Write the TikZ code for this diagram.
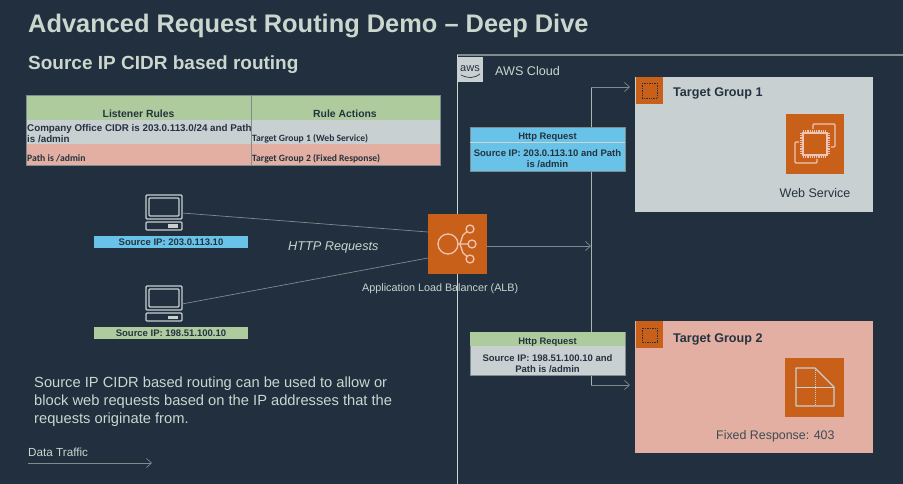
\documentclass[tikz,border=0pt]{standalone}
\usepackage{fontspec}
\setmainfont{Liberation Sans}
\newfontfamily\calib{Carlito}
\usetikzlibrary{arrows.meta}
\definecolor{bg}{HTML}{212F3E}
\definecolor{org}{HTML}{C9601A}
\definecolor{pale}{HTML}{C8D0D2}
\definecolor{salm}{HTML}{E2AFA2}
\definecolor{sky}{HTML}{69C3E8}
\definecolor{leaf}{HTML}{AECB9E}
\definecolor{soft}{HTML}{CAD6CE}
\definecolor{ink}{HTML}{25323F}
\definecolor{wire}{HTML}{7F8B8D}
\definecolor{pink}{HTML}{EFC4B4}
\tikzset{
  box/.style={anchor=north west,inner sep=0pt,outer sep=0pt,minimum width=#1},
  txt/.style={anchor=base west,inner sep=0pt,text=soft},
  dark/.style={anchor=base,inner sep=0pt,text=ink},
  wireline/.style={draw=wire,line width=0.7pt},
  flow/.style={wireline,-{Straight Barb[length=5pt,width=9pt]}},
  screenline/.style={draw=pale,line width=1.1pt,rounded corners=1pt},
  iconline/.style={draw=pink,line width=1.2pt},
}
\begin{document}
\begin{tikzpicture}[x=1pt,y=-1pt]
\useasboundingbox (0,0) rectangle (903,484);
\fill[bg] (0,0) rectangle (903,484);
% titles
\node[txt,font=\bfseries\fontsize{25.4}{28}\selectfont] (title) at (28,33) {Advanced Request Routing Demo – Deep Dive};
\node[txt,font=\bfseries\fontsize{19}{22}\selectfont] (sub) at (28,70) {Source IP CIDR based routing};
% table
\node[box=225pt,minimum height=25pt,fill=leaf] (h1) at (26,95) {};
\node[box=189pt,minimum height=25pt,fill=leaf] (h2) at (251,95) {};
\node[box=225pt,minimum height=24pt,fill=pale] (r1) at (26,120) {};
\node[box=189pt,minimum height=24pt,fill=pale] (r1b) at (251,120) {};
\node[box=225pt,minimum height=21pt,fill=salm] (r2) at (26,144) {};
\node[box=189pt,minimum height=21pt,fill=salm] (r2b) at (251,144) {};
\draw[wire,line width=0.5pt] (26,95) rectangle (440,165) (251,95) -- (251,165);
\node[dark,font=\bfseries\fontsize{10.4}{12}\selectfont] (t1) at (138.5,118) {Listener Rules};
\node[dark,font=\bfseries\fontsize{10.4}{12}\selectfont] (t2) at (345,118) {Rule Actions};
\node[txt,text=ink,font=\bfseries\fontsize{9.8}{10}\selectfont] (t3) at (27,131.5) {Company Office CIDR is 203.0.113.0/24 and Path};
\node[txt,text=ink,font=\bfseries\fontsize{9.8}{10}\selectfont] (t4) at (27,142.5) {is /admin};
\node[txt,text=ink,font=\calib\bfseries\fontsize{9.6}{10}\selectfont] (t5) at (252,141.5) {Target Group 1 (Web Service)};
\node[txt,text=ink,font=\calib\bfseries\fontsize{9.7}{10}\selectfont] (t6) at (27,162) {Path is /admin};
\node[txt,text=ink,font=\calib\bfseries\fontsize{9.6}{10}\selectfont] (t7) at (252,162) {Target Group 2 (Fixed Response)};
% computers
\foreach \n/\y in {pc1/195,pc2/286}{
  \node[box=36pt,minimum height=36pt] (\n) at (146,\y) {};
  \draw[screenline] (146,\y) rectangle (182,\y+24);
  \draw[screenline] (149,\y+3) rectangle (179,\y+21);
  \draw[screenline] (146,\y+27) rectangle (182,\y+35);
  \fill[pale] (168,\y+29.5) rectangle (178,\y+32.5);
}
\node[box=154pt,minimum height=12pt,fill=sky,font=\bfseries\fontsize{9.5}{10}\selectfont,text=ink] (ip1) at (94,236) {Source IP: 203.0.113.10};
\node[box=154pt,minimum height=12pt,fill=leaf,font=\bfseries\fontsize{9.5}{10}\selectfont,text=ink] (ip2) at (94,327) {Source IP: 198.51.100.10};
% cloud frame
\coordinate (cloudtl) at (457,55);
\coordinate (cloudtr) at (903,55);
\coordinate (cloudbl) at (457,484);
\draw[draw=wire,line width=1.2pt] (cloudtl) -- (cloudtr);
\draw[draw=soft,line width=0.9pt] (cloudtl) -- (cloudbl);
\node[box=26pt,minimum height=25pt,fill=pale,font=\fontsize{11}{9}\selectfont,text=ink] (aws) at (457,57) {\raisebox{2pt}{aws}};
\draw[ink,line width=0.7pt] (461,75) .. controls (468,78.5) and (474,78.5) .. (480,74);
\node[txt,font=\fontsize{12.6}{14}\selectfont] (cloud) at (495,76) {AWS Cloud};
% target groups
\node[box=238pt,minimum height=135pt,fill=pale] (tg1) at (635,77) {};
\node[box=238pt,minimum height=132pt,fill=salm] (tg2) at (635,321) {};
\node[box=27pt,minimum height=27pt,fill=org] (g1) at (636,77) {};
\node[box=27pt,minimum height=27pt,fill=org] (g2) at (636,321) {};
\draw[ink,line width=0.7pt,densely dotted] (642,83) rectangle (657,98);
\draw[ink,line width=0.7pt,densely dotted] (642,328) rectangle (657,342);
\node[txt,text=ink,font=\bfseries\fontsize{12.6}{14}\selectfont] (tg1t) at (673,97) {Target Group 1};
\node[txt,text=ink,font=\bfseries\fontsize{12.6}{14}\selectfont] (tg2t) at (673,342) {Target Group 2};
% EC2 icon
\node[box=58pt,minimum height=60pt,fill=org] (ec2) at (786,114) {};
\draw[iconline] (803,133) rectangle (827,155);
\draw[iconline,densely dotted,line width=2pt] (801,133) -- (801,155) (829,133) -- (829,155) (803,131) -- (827,131) (803,157) -- (827,157);
\draw[iconline,rounded corners=1pt] (813,129) -- (813,124) -- (835,124) -- (835,147) -- (831,147);
\draw[iconline,rounded corners=1pt] (799,142) -- (795,142) -- (795,163) -- (817,163) -- (817,159);
\node[dark,font=\fontsize{12.5}{14}\selectfont] (ws) at (815,198) {Web Service};
% fixed response icon
\node[box=59pt,minimum height=59pt,fill=org] (fix) at (785,358) {};
\draw[draw=pale,line width=1.2pt,line join=round] (796,368) -- (815,368) -- (834,387) -- (834,406) -- (796,406) -- cycle;
\draw[draw=pale,line width=1pt] (796,387) -- (834,387);
\draw[draw=pale,line width=1pt,densely dotted] (815,368) -- (815,406);
\node[txt,text=ink!85!soft,font=\fontsize{12.4}{14}\selectfont] (fr) at (716,439) {Fixed Response: 403};
% ALB and connectors
\node[box=59pt,minimum height=60pt,fill=org] (alb) at (428,214) {};
\coordinate (albn) at (428,232);
\coordinate (albs) at (428,258);
\coordinate (jn) at (591,87);
\coordinate (jm) at (591,246);
\coordinate (js) at (591,385);
\coordinate (tg1in) at (630,87);
\coordinate (tg2in) at (630,385);
\coordinate (albout) at (487,246);
\draw[wireline] (pc1.east) -- (albn);
\draw[wireline] (pc2.east) -- (albs);
\draw[flow] (albout) -- (jm);
\draw[wireline,draw=soft!80!bg] (jn) -- (js);
\draw[flow] (jn) -- (tg1in);
\draw[flow] (js) -- (tg2in);
% ALB icon
\draw[iconline,line width=1.3pt] (448,244) circle (10);
\draw[iconline,line width=1.3pt] (470,229) circle (4) (472,244) circle (4) (470,259) circle (4);
\draw[iconline,line width=1.3pt] (458,244) -- (468,244) (460,244) -- (463,235) -- (467,231.5) (460,244) -- (463,253) -- (467,256.5);
\node[txt,font=\fontsize{10.8}{13}\selectfont] (albl) at (362,291) {Application Load Balancer (ALB)};
\node[txt,font=\itshape\fontsize{12.7}{14}\selectfont] (http) at (288,250) {HTTP Requests};
% request boxes
\node[box=155pt,minimum height=44pt,fill=sky,draw=wire,line width=0.5pt] (rq1) at (470,127) {};
\draw[soft,line width=0.5pt] (470,142) -- (625,142);
\node[dark,font=\bfseries\fontsize{9.4}{10}\selectfont] (rq1h) at (547.5,140) {Http Request};
\node[dark,font=\bfseries\fontsize{9.5}{10}\selectfont] (rq1a) at (547.5,157) {Source IP: 203.0.113.10 and Path};
\node[dark,font=\bfseries\fontsize{9.5}{10}\selectfont] (rq1b) at (547.5,168) {is /admin};
\node[box=155pt,minimum height=43pt,fill=pale,draw=wire,line width=0.5pt] (rq2) at (470,332) {};
\node[box=155pt,minimum height=14pt,fill=leaf] (rq2top) at (470,332) {};
\node[dark,font=\bfseries\fontsize{9.4}{10}\selectfont] (rq2h) at (547.5,344) {Http Request};
\node[dark,font=\bfseries\fontsize{9.5}{10}\selectfont] (rq2a) at (547.5,361) {Source IP: 198.51.100.10 and};
\node[dark,font=\bfseries\fontsize{9.5}{10}\selectfont] (rq2b) at (547.5,372) {Path is /admin};
% paragraph
\node[txt,font=\fontsize{14.7}{16}\selectfont] (p1) at (34,387) {Source IP CIDR based routing can be used to allow or};
\node[txt,font=\fontsize{14.7}{16}\selectfont] (p2) at (34,405) {block web requests based on the IP addresses that the};
\node[txt,font=\fontsize{14.7}{16}\selectfont] (p3) at (34,423) {requests originate from.};
% legend
\node[txt,font=\fontsize{11.7}{13}\selectfont] (dt) at (28,456) {Data Traffic};
\coordinate (lega) at (28,463);
\coordinate (legb) at (152,463);
\draw[flow] (lega) -- (legb);
\end{tikzpicture}
\end{document}
